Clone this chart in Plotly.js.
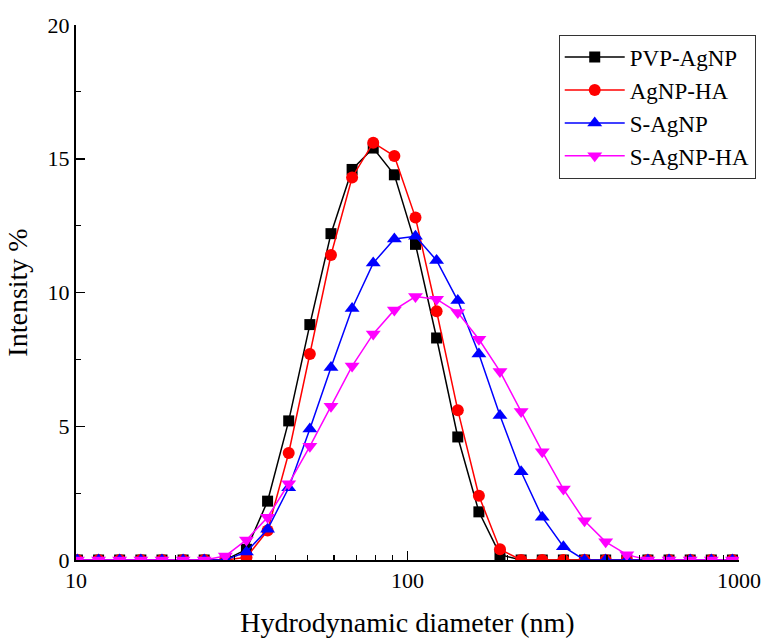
<!DOCTYPE html>
<html>
<head>
<meta charset="utf-8">
<script src="https://cdn.plot.ly/plotly-3.0.1.min.js"></script>
<style>html,body{margin:0;padding:0;background:#fff;}#chart{width:767px;height:641px;}</style>
</head>
<body>
<div id="chart"></div>
<script>
const diameter = [10.10, 11.70, 13.54, 15.69, 18.17, 21.04, 24.36, 28.21, 32.67, 37.84, 43.82, 50.75, 58.77, 68.06, 78.82, 91.28, 105.7, 122.4, 141.8, 164.2, 190.1, 220.2, 255.0, 295.3, 342.0, 396.1, 458.7, 531.2, 615.1, 712.4, 825.0, 955.4];
const pvpAgNP  = [0, 0, 0, 0, 0, 0, 0, 0, 0.4, 2.2, 5.2, 8.8, 12.2, 14.6, 15.4, 14.4, 11.8, 8.3, 4.6, 1.8, 0.2, 0, 0, 0, 0, 0, 0, 0, 0, 0, 0, 0];
const agnpHA   = [0, 0, 0, 0, 0, 0, 0, 0, 0.1, 1.1, 4.0, 7.7, 11.4, 14.3, 15.6, 15.1, 12.8, 9.3, 5.6, 2.4, 0.4, 0, 0, 0, 0, 0, 0, 0, 0, 0, 0, 0];
const sAgNP    = [0, 0, 0, 0, 0, 0, 0, 0, 0.3, 1.15, 2.7, 4.9, 7.2, 9.4, 11.1, 12.0, 12.1, 11.2, 9.7, 7.7, 5.4, 3.3, 1.6, 0.5, 0, 0, 0, 0, 0, 0, 0, 0];
const sAgNPHA  = [0, 0, 0, 0, 0, 0, 0, 0.15, 0.75, 1.6, 2.85, 4.25, 5.75, 7.25, 8.45, 9.35, 9.85, 9.75, 9.25, 8.25, 7.05, 5.55, 4.05, 2.65, 1.47, 0.68, 0.2, 0, 0, 0, 0, 0];
const seriesNames = ["PVP-AgNP", "AgNP-HA", "S-AgNP", "S-AgNP-HA"];
const xTickVals = [10, 100, 1000];
const xTickText = ["10", "100", "1000"];

const FONT = '"Liberation Serif", "Times New Roman", serif';
function tr(y, name, color, symbol, size) {
  return {
    x: diameter, y: y, name: name, type: "scatter", mode: "lines+markers",
    line: {color: color, width: 1.5},
    marker: {color: color, symbol: symbol, size: size, line: {width: 0}}
  };
}
const data = [
  tr(pvpAgNP, seriesNames[0], "#000000", "square", 11),
  tr(agnpHA, seriesNames[1], "#ff0000", "circle", 12),
  tr(sAgNP, seriesNames[2], "#0000ff", "triangle-up", 13),
  tr(sAgNPHA, seriesNames[3], "#ff00ff", "triangle-down", 13)
];
const layout = {
  width: 767, height: 641,
  margin: {l: 76, r: 27, t: 25, b: 81},
  paper_bgcolor: "#fff", plot_bgcolor: "#fff",
  font: {family: FONT, size: 22, color: "#000"},
  showlegend: true,
  legend: {
    x: 0.727, y: 0.982, xanchor: "left", yanchor: "top",
    bordercolor: "#333", borderwidth: 1, bgcolor: "#fff",
    font: {family: FONT, size: 23, color: "#000"},
    itemwidth: 60, tracegroupgap: 0
  },
  xaxis: {
    type: "log", range: [1, 3],
    tickmode: "array", tickvals: xTickVals, ticktext: xTickText,
    ticks: "inside", ticklen: 9, tickwidth: 1.5, tickcolor: "#000",
    minor: {ticks: "inside", ticklen: 5, tickwidth: 1.2, tickcolor: "#000", dtick: "D1", showgrid: false},
    showline: true, linecolor: "#000", linewidth: 2,
    showgrid: false, zeroline: false, mirror: false,
    tickfont: {family: FONT, size: 22, color: "#000"},
    title: {text: "Hydrodynamic diameter (nm)", font: {family: FONT, size: 28, color: "#000"}, standoff: 20}
  },
  yaxis: {
    range: [0, 20], dtick: 5, tick0: 0,
    ticks: "inside", ticklen: 9, tickwidth: 1.5, tickcolor: "#000",
    minor: {ticks: "inside", ticklen: 5, tickwidth: 1.2, tickcolor: "#000", dtick: 2.5, showgrid: false},
    showline: true, linecolor: "#000", linewidth: 2,
    showgrid: false, zeroline: false, mirror: false,
    tickfont: {family: FONT, size: 22, color: "#000"},
    title: {text: "Intensity %", font: {family: FONT, size: 28, color: "#000"}, standoff: 12}
  }
};
Plotly.newPlot("chart", data, layout, {displayModeBar: false, staticPlot: true});
</script>
</body>
</html>
